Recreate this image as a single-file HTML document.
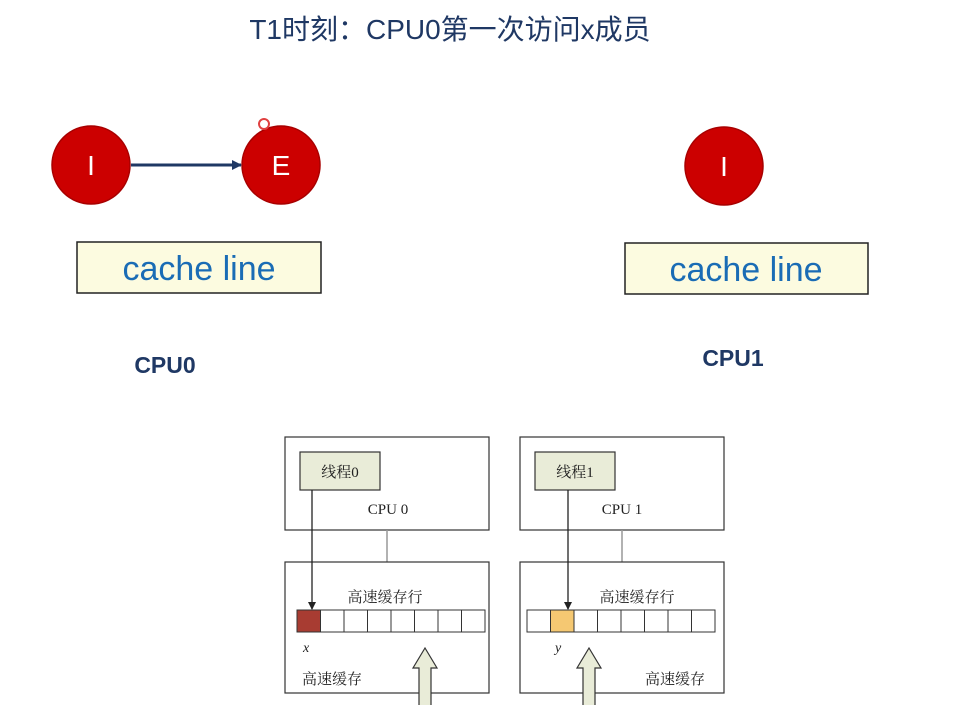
<!DOCTYPE html>
<html><head><meta charset="utf-8"><style>
html,body{margin:0;padding:0;background:#fff;width:958px;height:705px;overflow:hidden}
</style></head><body>
<svg width="958" height="705" viewBox="0 0 958 705" xmlns="http://www.w3.org/2000/svg">
<defs>
<marker id="ah" markerWidth="10" markerHeight="10" refX="9" refY="5" orient="auto" markerUnits="userSpaceOnUse"><path d="M0,0 L10,5 L0,10 Z" fill="#1f3864"/></marker>
<marker id="ah2" markerWidth="8" markerHeight="10" refX="7" refY="5" orient="auto" markerUnits="userSpaceOnUse"><path d="M0,1 L8,5 L0,9 Z" fill="#222"/></marker>
</defs>
<text x="450" y="39" text-anchor="middle" font-family="Liberation Sans, Noto Sans CJK SC, sans-serif" font-size="28" fill="#1f3864">T1时刻：CPU0第一次访问x成员</text>
<g font-family="Liberation Sans, sans-serif" font-size="28" fill="#fff" text-anchor="middle">
<circle cx="91" cy="165" r="39" fill="#cc0000" stroke="#a80000" stroke-width="1.5"/>
<text x="91" y="175">I</text>
<circle cx="281" cy="165" r="39" fill="#cc0000" stroke="#a80000" stroke-width="1.5"/>
<text x="281" y="175">E</text>
<circle cx="724" cy="166" r="39" fill="#cc0000" stroke="#a80000" stroke-width="1.5"/>
<text x="724" y="176">I</text>
</g>
<circle cx="264" cy="124" r="5" fill="none" stroke="#e04040" stroke-width="2"/>
<line x1="131" y1="165" x2="241" y2="165" stroke="#1f3864" stroke-width="3" marker-end="url(#ah)"/>
<rect x="77" y="242" width="244" height="51" fill="#fcfbe0" stroke="#222" stroke-width="1.5"/>
<text x="199" y="280" text-anchor="middle" font-family="Liberation Sans, sans-serif" font-size="34" fill="#1a6cb5">cache line</text>
<rect x="625" y="243" width="243" height="51" fill="#fcfbe0" stroke="#222" stroke-width="1.5"/>
<text x="746" y="281" text-anchor="middle" font-family="Liberation Sans, sans-serif" font-size="34" fill="#1a6cb5">cache line</text>
<text x="165" y="373" text-anchor="middle" font-family="Liberation Sans, sans-serif" font-size="23" font-weight="bold" fill="#1f3864">CPU0</text>
<text x="733" y="366" text-anchor="middle" font-family="Liberation Sans, sans-serif" font-size="23" font-weight="bold" fill="#1f3864">CPU1</text>

<g font-family="Liberation Serif, Noto Serif CJK SC, serif" fill="#222">
<rect x="285" y="437" width="204" height="93" fill="#fff" stroke="#333" stroke-width="1.2"/>
<rect x="300" y="452" width="80" height="38" fill="#e9ecd8" stroke="#333" stroke-width="1.2"/>
<text x="340" y="477" text-anchor="middle" font-size="15">线程0</text>
<text x="388" y="514" text-anchor="middle" font-size="15">CPU 0</text>
<line x1="387" y1="530" x2="387" y2="562" stroke="#999" stroke-width="1.5"/>
<rect x="285" y="562" width="204" height="131" fill="#fff" stroke="#333" stroke-width="1.2"/>
<text x="385" y="602" text-anchor="middle" font-size="15">高速缓存行</text>
<g stroke="#333" stroke-width="1" fill="#fff">
<rect x="297" y="610" width="23.5" height="22" fill="#a83c32"/>
<rect x="320.5" y="610" width="23.5" height="22"/><rect x="344" y="610" width="23.5" height="22"/><rect x="367.5" y="610" width="23.5" height="22"/><rect x="391" y="610" width="23.5" height="22"/><rect x="414.5" y="610" width="23.5" height="22"/><rect x="438" y="610" width="23.5" height="22"/><rect x="461.5" y="610" width="23.5" height="22"/>
</g>
<line x1="312" y1="490" x2="312" y2="609" stroke="#222" stroke-width="1.3" marker-end="url(#ah2)"/>
<text x="303" y="652" font-size="14" font-style="italic">x</text>
<text x="332" y="684" text-anchor="middle" font-size="15">高速缓存</text>
<path d="M419,705 L419,668 L413,668 L425,648 L437,668 L431,668 L431,705" fill="#e9ecd8" stroke="#333" stroke-width="1.2"/>
<rect x="520" y="437" width="204" height="93" fill="#fff" stroke="#333" stroke-width="1.2"/>
<rect x="535" y="452" width="80" height="38" fill="#e9ecd8" stroke="#333" stroke-width="1.2"/>
<text x="575" y="477" text-anchor="middle" font-size="15">线程1</text>
<text x="622" y="514" text-anchor="middle" font-size="15">CPU 1</text>
<line x1="622" y1="530" x2="622" y2="562" stroke="#999" stroke-width="1.5"/>
<rect x="520" y="562" width="204" height="131" fill="#fff" stroke="#333" stroke-width="1.2"/>
<text x="637" y="602" text-anchor="middle" font-size="15">高速缓存行</text>
<g stroke="#333" stroke-width="1" fill="#fff">
<rect x="527" y="610" width="23.5" height="22"/>
<rect x="550.5" y="610" width="23.5" height="22" fill="#f5c872"/>
<rect x="574" y="610" width="23.5" height="22"/><rect x="597.5" y="610" width="23.5" height="22"/><rect x="621" y="610" width="23.5" height="22"/><rect x="644.5" y="610" width="23.5" height="22"/><rect x="668" y="610" width="23.5" height="22"/><rect x="691.5" y="610" width="23.5" height="22"/>
</g>
<line x1="568" y1="490" x2="568" y2="609" stroke="#222" stroke-width="1.3" marker-end="url(#ah2)"/>
<text x="555" y="652" font-size="14" font-style="italic">y</text>
<text x="675" y="684" text-anchor="middle" font-size="15">高速缓存</text>
<path d="M583,705 L583,668 L577,668 L589,648 L601,668 L595,668 L595,705" fill="#e9ecd8" stroke="#333" stroke-width="1.2"/>
</g>
</svg>
</body></html>
